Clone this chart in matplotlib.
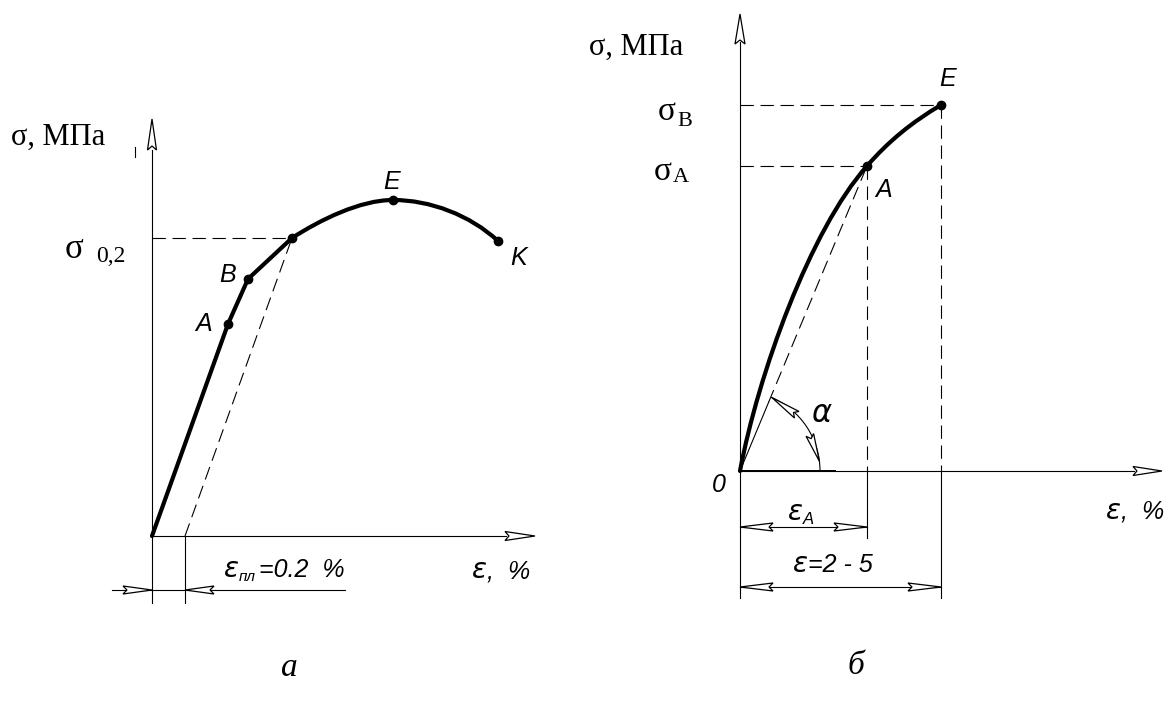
import numpy as np
import matplotlib
matplotlib.use("Agg")
import matplotlib.pyplot as plt
import matplotlib.patches as patches
from matplotlib.path import Path

# drawing is laid out in pixel units of the 1164x707 sheet (y grows downward)

# --- panel "a": stress-strain curve with 0.2 % offset ---
origin_a = (152, 536)
# straight part: origin -> A -> B -> yield point
line_a_x = [152, 228, 248, 292]
line_a_y = [536, 324, 279, 238]
# smooth part (bezier control points): yield point -> E -> K
bez_a_x = [292, 320, 360, 393, 430, 470, 498]
bez_a_y = [238, 220, 200, 200, 200, 215, 241]
points_a = {"A": (228, 324), "B": (248, 279), "0.2": (292, 238), "E": (393, 200), "K": (498, 241)}
offset_x = 185  # foot of the 0.2 % offset line

# --- panel "б": curve up to the ultimate point ---
origin_b = (740, 471)
# cubic origin -> A, then quadratic A -> E
bez_b_x = [740, 758, 810, 867, 898, 941]
bez_b_y = [471, 375, 230, 166, 130, 105]
points_b = {"A": (867, 166), "E": (941, 105)}

THIN = 0.8
THICK = 3.0
DASH = (0, (12, 6))
SERIF = "Liberation Serif"
SANS = ["Liberation Sans Narrow", "Liberation Sans", "DejaVu Sans"]


def dart(ax, tip, direction, length=30, half=4.5, notch=4):
    """open narrow arrow head as used on the drawing"""
    d = np.array(direction, float)
    d /= np.hypot(*d)
    p = np.array([-d[1], d[0]])
    t = np.array(tip, float)
    base = t - length * d
    pts = [t, base + half * p, t - (length - notch) * d, base - half * p]
    ax.add_patch(patches.Polygon(pts, closed=True, facecolor="white",
                                 edgecolor="black", lw=0.9, zorder=4))


def thick_path(ax, verts, codes):
    ax.add_patch(patches.PathPatch(Path(verts, codes), facecolor="none", edgecolor="black",
                                   lw=THICK, capstyle="round", joinstyle="round", zorder=3))


fig = plt.figure(figsize=(11.64, 7.07), dpi=100)
ax = fig.add_axes([0, 0, 1, 1])
ax.set_xlim(0, 1164)
ax.set_ylim(707, 0)
ax.axis("off")

# ================= panel a =================
ox, oy = origin_a
ax.plot([ox, ox], [150, 603], color="black", lw=THIN)          # sigma axis
dart(ax, (ox, 119), (0, -1), length=31, half=4.5)
ax.plot([ox, 506], [oy, oy], color="black", lw=THIN)           # eps axis
dart(ax, (535, oy), (1, 0), length=30, half=4.5)

ax.plot(line_a_x, line_a_y, color="black", lw=THICK, solid_capstyle="round",
        solid_joinstyle="round", zorder=3)
thick_path(ax, list(zip(bez_a_x, bez_a_y)),
           [Path.MOVETO] + [Path.CURVE4] * 6)
for k, (px, py) in points_a.items():
    ax.plot(px, py, "o", color="black", ms=6, zorder=5)

px, py = points_a["0.2"]
ax.plot([ox, px], [py, py], color="black", lw=THIN, ls=DASH)
ax.plot([offset_x, px], [oy, py], color="black", lw=THIN, ls=DASH)

# dimension for offset
ax.plot([offset_x, offset_x], [oy, 603], color="black", lw=THIN)
ax.plot([112, 345], [590, 590], color="black", lw=THIN)
dart(ax, (ox, 590), (1, 0), length=29, half=4)
dart(ax, (offset_x, 590), (-1, 0), length=29, half=4)
ax.plot([135, 135], [147, 157], color="black", lw=THIN)

ax.text(11, 137, "σ, МПа", family=SERIF, fontsize=22, va="center", ha="left")
ax.text(65, 250, "σ", family=SERIF, fontsize=25, va="center", ha="left")
ax.text(96, 256, "0,2", family=SERIF, fontsize=17, va="center", ha="left")
lab = dict(family=SANS, style="italic", fontsize=18, va="center", ha="center")
ax.text(204, 324, "A", **lab)
ax.text(228, 275, "B", **lab)
ax.text(392, 182, "E", **lab)
ax.text(519, 258, "K", **lab)
ax.text(223, 570, r"$\varepsilon$", family=SANS, fontsize=20, va="center", ha="left")
ax.text(239, 577, "пл", family=SANS, style="italic", fontsize=11, va="center", ha="left")
ax.text(259, 570, "=0.2  %", family=SANS, style="italic", fontsize=18, va="center", ha="left")
ax.text(471, 571, r"$\varepsilon$", family=SANS, fontsize=20, va="center", ha="left")
ax.text(487, 571, ",  %", family=SANS, style="italic", fontsize=18, va="center", ha="left")

ax.text(289, 668, "a", family=SERIF, style="italic", fontsize=24, va="center", ha="center")

# ================= panel б =================
bx, by = origin_b
ax.plot([bx, bx], [42, 598], color="black", lw=THIN)           # sigma axis
dart(ax, (bx, 14), (0, -1), length=30, half=5)
ax.plot([bx, 1134], [by, by], color="black", lw=THIN)          # eps axis
ax.plot([bx, 835], [by, by], color="black", lw=1.4)
dart(ax, (1162, by), (1, 0), length=29, half=4.5)

thick_path(ax, list(zip(bez_b_x, bez_b_y)),
           [Path.MOVETO] + [Path.CURVE4] * 3 + [Path.CURVE3] * 2)
for k, (px, py) in points_b.items():
    ax.plot(px, py, "o", color="black", ms=6, zorder=5)

ax_, ay_ = points_b["A"]
ex_, ey_ = points_b["E"]
ax.plot([bx, ax_], [ay_, ay_], color="black", lw=THIN, ls=DASH)
ax.plot([bx, ex_], [ey_, ey_], color="black", lw=THIN, ls=DASH)
ax.plot([ax_, ax_], [ay_, by], color="black", lw=THIN, ls=DASH)
ax.plot([ex_, ex_], [ey_, by], color="black", lw=THIN, ls=DASH)
ax.plot([ax_, ax_], [by, 538], color="black", lw=THIN)
ax.plot([ex_, ex_], [by, 598], color="black", lw=THIN)

# secant line from the origin to A, solid near the origin
t_break = 0.225
sx = bx + t_break * (ax_ - bx)
sy = by + t_break * (ay_ - by)
ax.plot([bx, sx], [by, sy], color="black", lw=THIN)
ax.plot([sx, ax_], [sy, ay_], color="black", lw=THIN, ls=DASH)

# angle alpha
ang_line = np.degrees(np.arctan2(by - ay_, ax_ - bx))
r = 80
ax.add_patch(patches.Arc((bx, by), 2 * r, 2 * r, theta1=-ang_line, theta2=0,
                         color="black", lw=THIN))
a1 = np.radians(ang_line - 1)
tip1 = (bx + r * np.cos(a1), by - r * np.sin(a1))
dart(ax, tip1, (-np.sin(np.radians(ang_line - 12)), -np.cos(np.radians(ang_line - 12))),
     length=30, half=4)
a2 = np.radians(7)
tip2 = (bx + r * np.cos(a2), by - r * np.sin(a2))
dart(ax, tip2, (np.sin(np.radians(20)), np.cos(np.radians(20))), length=28, half=4)
ax.text(822, 413, r"$\alpha$", fontsize=22, va="center", ha="center")

# dimensions
ax.plot([bx, ax_], [527, 527], color="black", lw=THIN)
dart(ax, (bx, 527), (-1, 0), length=33, half=4)
dart(ax, (ax_, 527), (1, 0), length=33, half=4)
ax.plot([bx, ex_], [587, 587], color="black", lw=THIN)
dart(ax, (bx, 587), (-1, 0), length=33, half=4)
dart(ax, (ex_, 587), (1, 0), length=33, half=4)

ax.text(589, 47, "σ, МПа", family=SERIF, fontsize=22, va="center", ha="left")
ax.text(658, 112, "σ", family=SERIF, fontsize=24, va="center", ha="left")
ax.text(677, 121, "В", family=SERIF, fontsize=16, va="center", ha="left")
ax.text(654, 172, "σ", family=SERIF, fontsize=24, va="center", ha="left")
ax.text(673, 178, "A", family=SERIF, fontsize=16, va="center", ha="left")
ax.text(948, 79, "E", **lab)
ax.text(884, 190, "A", **lab)
ax.text(719, 485, "0", **lab)
ax.text(787, 513, r"$\varepsilon$", family=SANS, fontsize=20, va="center", ha="left")
ax.text(803, 520, "A", family=SANS, style="italic", fontsize=12, va="center", ha="left")
ax.text(792, 565, r"$\varepsilon$", family=SANS, fontsize=20, va="center", ha="left")
ax.text(808, 565, "=2 - 5", family=SANS, style="italic", fontsize=18, va="center", ha="left")
ax.text(1105, 512, r"$\varepsilon$", family=SANS, fontsize=20, va="center", ha="left")
ax.text(1121, 512, ",  %", family=SANS, style="italic", fontsize=18, va="center", ha="left")

ax.text(856, 666, "б", family=SERIF, style="italic", fontsize=24, va="center", ha="center")

fig.savefig("out.png", dpi=100)
